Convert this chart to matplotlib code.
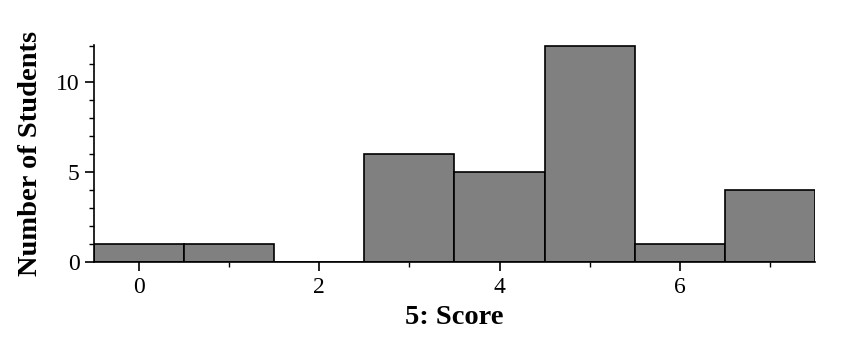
import matplotlib.pyplot as plt
from matplotlib.ticker import MultipleLocator

plt.rcParams['font.family'] = ['Liberation Serif', 'DejaVu Serif']

# Histogram counts per score
scores = [0, 1, 2, 3, 4, 5, 6, 7]
counts = [1, 1, 0, 6, 5, 12, 1, 4]

fig = plt.figure(figsize=(8.45, 3.64), dpi=100)
ax = fig.add_axes([0.1112, 0.2802, 0.8533, 0.5962])

ax.bar(scores, counts, width=1.0, color="#808080", edgecolor="black", linewidth=1.2)

ax.set_xlim(-0.5, 7.5)
ax.set_ylim(0, 12.05)

ax.xaxis.set_major_locator(MultipleLocator(2))
ax.xaxis.set_minor_locator(MultipleLocator(1))
ax.yaxis.set_major_locator(MultipleLocator(5))
ax.yaxis.set_minor_locator(MultipleLocator(1))

ax.spines['top'].set_visible(False)
ax.spines['right'].set_visible(False)
for s in ['left', 'bottom']:
    ax.spines[s].set_linewidth(1.2)

ax.tick_params(which='major', length=6.5, width=1.2, labelsize=17, pad=4)
ax.tick_params(which='minor', length=3.5, width=1.0)

ax.set_xlabel("5: Score", fontsize=20.5, fontweight='bold', labelpad=5)
ax.set_ylabel("Number of Students", fontsize=20.5, fontweight='bold', labelpad=9)

fig.savefig("out.png", dpi=100)
